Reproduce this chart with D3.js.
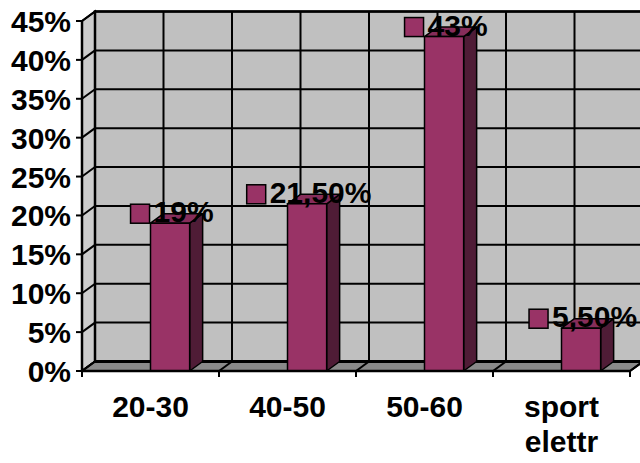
<!DOCTYPE html>
<html>
<head>
<meta charset="utf-8">
<script src="https://cdn.jsdelivr.net/npm/d3@7"></script>
<style>
  html, body { margin: 0; padding: 0; background: #fff; }
  svg { display: block; }
  text { font-family: "Liberation Sans", Arial, sans-serif; font-weight: bold; fill: #000; }
</style>
</head>
<body>
<svg id="chart" width="640" height="463"></svg>
<script>
// Age groups and their share of answers
const categories = ["20-30", "40-50", "50-60", "sport elettr"];
const values = [0.19, 0.215, 0.43, 0.055];
const valueLabels = ["19%", "21,50%", "43%", "5,50%"];
const yTicks = [0, 0.05, 0.10, 0.15, 0.20, 0.25, 0.30, 0.35, 0.40, 0.45];

const svg = d3.select("#chart");

// Front plane geometry and the depth offset of the back wall
const front = { left: 82, right: 630, top: 21, bottom: 371 };
const depth = { dx: 13, dy: -9.5 };

const x = d3.scaleBand().domain(categories).range([front.left, front.right]).padding(0);
const y = d3.scaleLinear().domain([0, 0.45]).range([front.bottom, front.top]);

const barColor = "#993366", barSide = "#4f1c36", barTop = "#862d5a";
const wallColor = "#c0c0c0", sideWallColor = "#cccccc", floorColor = "#8a8a8a";
const gridW = 2;
const fontSize = 30;

const g = svg.append("g");
const pts = a => a.map(p => p.join(",")).join(" ");

// Left side wall
g.append("polygon")
  .attr("points", pts([
    [front.left, y(0.45)], [front.left + depth.dx, y(0.45) + depth.dy],
    [front.left + depth.dx, y(0) + depth.dy], [front.left, y(0)]
  ]))
  .attr("fill", sideWallColor).attr("stroke", "#000").attr("stroke-width", gridW);

// Back wall
const backLeft = front.left + depth.dx, backRight = front.right + depth.dx;
g.append("rect")
  .attr("x", backLeft).attr("y", y(0.45) + depth.dy)
  .attr("width", backRight - backLeft).attr("height", y(0) - y(0.45))
  .attr("fill", wallColor).attr("stroke", "#000").attr("stroke-width", gridW + 0.5);

// Horizontal gridlines: across the back wall and down the side wall
yTicks.forEach(t => {
  g.append("line")
    .attr("x1", backLeft).attr("x2", backRight)
    .attr("y1", y(t) + depth.dy).attr("y2", y(t) + depth.dy)
    .attr("stroke", "#000").attr("stroke-width", gridW);
  g.append("line")
    .attr("x1", front.left).attr("y1", y(t))
    .attr("x2", backLeft).attr("y2", y(t) + depth.dy)
    .attr("stroke", "#000").attr("stroke-width", gridW);
});

// Vertical gridlines on the back wall at category edges and centres
const vLines = [];
categories.forEach(c => { vLines.push(x(c)); vLines.push(x(c) + x.bandwidth() / 2); });
vLines.push(front.right);
vLines.forEach(v => {
  g.append("line")
    .attr("x1", v + depth.dx).attr("x2", v + depth.dx)
    .attr("y1", y(0.45) + depth.dy).attr("y2", y(0) + depth.dy)
    .attr("stroke", "#000").attr("stroke-width", gridW);
});

// Floor
g.append("polygon")
  .attr("points", pts([
    [front.left, y(0)], [front.right, y(0)],
    [front.right + depth.dx, y(0) + depth.dy], [backLeft, y(0) + depth.dy]
  ]))
  .attr("fill", floorColor).attr("stroke", "#000").attr("stroke-width", gridW);
g.append("line")
  .attr("x1", backLeft).attr("x2", backRight)
  .attr("y1", y(0) + depth.dy).attr("y2", y(0) + depth.dy)
  .attr("stroke", "#000").attr("stroke-width", gridW + 1);

const edges = categories.map(c => x(c)).concat([front.right]);
edges.forEach(e => {
  g.append("line")
    .attr("x1", e).attr("y1", y(0))
    .attr("x2", e + depth.dx).attr("y2", y(0) + depth.dy)
    .attr("stroke", "#000").attr("stroke-width", gridW);
});

// Bars: the series sits in the right half of each category slot
const barW = x.bandwidth() / 3.5;
const bars = g.selectAll("g.bar").data(values).join("g").attr("class", "bar");
bars.each(function (v, i) {
  const b = d3.select(this);
  const x0 = x(categories[i]) + x.bandwidth() / 2, x1 = x0 + barW;
  const yt = y(v), yb = y(0);
  b.append("polygon")
    .attr("points", pts([[x1, yt], [x1 + depth.dx, yt + depth.dy], [x1 + depth.dx, yb + depth.dy], [x1, yb]]))
    .attr("fill", barSide).attr("stroke", "#000").attr("stroke-width", 1.5).attr("stroke-linejoin", "round");
  b.append("polygon")
    .attr("points", pts([[x0, yt], [x1, yt], [x1 + depth.dx, yt + depth.dy], [x0 + depth.dx, yt + depth.dy]]))
    .attr("fill", barTop).attr("stroke", "#000").attr("stroke-width", 1.5).attr("stroke-linejoin", "round");
  b.append("rect")
    .attr("x", x0).attr("y", yt).attr("width", barW).attr("height", yb - yt)
    .attr("fill", barColor).attr("stroke", "#000").attr("stroke-width", 1.5);
});

// Axis lines
g.append("line")
  .attr("x1", front.left).attr("x2", front.left)
  .attr("y1", y(0.45)).attr("y2", y(0))
  .attr("stroke", "#000").attr("stroke-width", gridW + 0.5);
g.append("line")
  .attr("x1", front.left).attr("x2", front.right)
  .attr("y1", y(0)).attr("y2", y(0))
  .attr("stroke", "#000").attr("stroke-width", gridW + 0.5);

// Value axis ticks and labels
const fmt = d3.format(".0%");
yTicks.forEach(t => {
  g.append("line")
    .attr("x1", front.left - 6).attr("x2", front.left)
    .attr("y1", y(t)).attr("y2", y(t))
    .attr("stroke", "#000").attr("stroke-width", gridW);
  g.append("text")
    .attr("x", front.left - 11).attr("y", y(t) + 11)
    .attr("text-anchor", "end").attr("font-size", fontSize)
    .text(fmt(t));
});

// Category ticks and labels
edges.forEach(e => {
  g.append("line")
    .attr("x1", e).attr("x2", e)
    .attr("y1", y(0)).attr("y2", y(0) + 6)
    .attr("stroke", "#000").attr("stroke-width", gridW);
});
categories.forEach(c => {
  const cx = x(c) + x.bandwidth() / 2;
  const t = g.append("text")
    .attr("x", cx).attr("y", 417)
    .attr("text-anchor", "middle").attr("font-size", fontSize);
  c.split(" ").forEach((w, k) => {
    t.append("tspan").attr("x", cx).attr("dy", k === 0 ? 0 : 35).text(w);
  });
});

// Data labels with a legend key, centred over each bar top
values.forEach((v, i) => {
  const cx = x(categories[i]) + x.bandwidth() / 2 + barW / 2 + 2;
  const base = y(v);
  const lab = g.append("g");
  const txt = lab.append("text").attr("font-size", fontSize).attr("y", base - 1).text(valueLabels[i]);
  const tw = txt.node().getComputedTextLength();
  const key = 19, gap = 4;
  const total = key + gap + tw;
  const left = cx - total / 2;
  lab.insert("rect", "text")
    .attr("x", left).attr("y", base - key)
    .attr("width", key).attr("height", key)
    .attr("fill", barColor).attr("stroke", "#000").attr("stroke-width", 1.5);
  txt.attr("x", left + key + gap);
});
</script>
</body>
</html>
